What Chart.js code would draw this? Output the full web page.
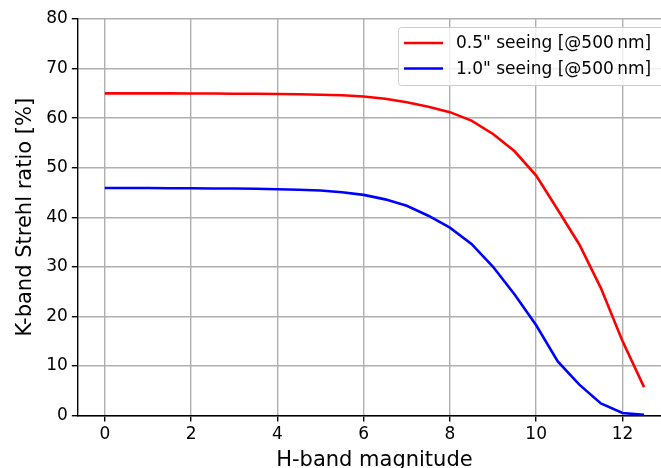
<!DOCTYPE html>
<html>
<head>
<meta charset="utf-8">
<script src="https://cdn.jsdelivr.net/npm/chart.js@4"></script>
<style>
  html, body { margin: 0; padding: 0; background: #fff; overflow: hidden; }
  #wrap { width: 671px; height: 473px; }
</style>
</head>
<body>
<div id="wrap"><canvas id="strehlChart" width="671" height="473"></canvas></div>
<script>
// H-band magnitude vs K-band Strehl ratio
const magnitudes = [0, 0.5, 1, 1.5, 2, 2.5, 3, 3.5, 4, 4.5, 5, 5.5, 6, 6.5, 7, 7.5, 8, 8.5, 9, 9.5, 10, 10.5, 11, 11.5, 12, 12.5];
const strehlGood = [65.0, 65.0, 65.0, 65.0, 64.95, 64.95, 64.9, 64.9, 64.85, 64.8, 64.7, 64.6, 64.35, 63.9, 63.2, 62.3, 61.2, 59.5, 56.8, 53.3, 48.4, 41.5, 34.5, 25.7, 15.0, 5.7];
const strehlBad = [45.9, 45.9, 45.9, 45.85, 45.85, 45.8, 45.8, 45.75, 45.65, 45.55, 45.4, 45.05, 44.5, 43.6, 42.3, 40.3, 37.9, 34.6, 30.0, 24.4, 18.2, 10.9, 6.2, 2.4, 0.5, 0.1];
const seriesLabels = ['0.5" seeing [@500\u2009nm]', '1.0" seeing [@500\u2009nm]'];
const seriesColors = ['#ff0000', '#0000ff'];
const xTicks = [0, 2, 4, 6, 8, 10, 12];
const yTicks = [0, 10, 20, 30, 40, 50, 60, 70, 80];

const FONT = 'DejaVu Sans';

function toPoints(ys) {
    return magnitudes.map((x, i) => ({ x: x, y: ys[i] }));
}

// matplotlib-style legend drawn inside the plot, upper right
const insideLegend = {
    id: 'insideLegend',
    afterDatasetsDraw(chart) {
        const ctx = chart.ctx;
        const left = 398, top = 27, w = 290, h = 58;
        ctx.save();
        ctx.fillStyle = 'rgba(255,255,255,0.8)';
        ctx.strokeStyle = '#cccccc';
        ctx.lineWidth = 1;
        ctx.beginPath();
        ctx.roundRect(left + 0.5, top + 0.5, w, h, 3);
        ctx.fill();
        ctx.stroke();
        ctx.font = '17px "' + FONT + '"';
        ctx.textBaseline = 'middle';
        chart.data.datasets.forEach((ds, i) => {
            const y = 43 + i * 25.5;
            ctx.strokeStyle = ds.borderColor;
            ctx.lineWidth = 2.6;
            ctx.beginPath();
            ctx.moveTo(404, y);
            ctx.lineTo(443, y);
            ctx.stroke();
            ctx.fillStyle = '#000';
            ctx.fillText(ds.label, 456, y + 1);
        });
        ctx.restore();
    }
};

const ctx = document.getElementById('strehlChart').getContext('2d');
new Chart(ctx, {
    type: 'line',
    data: {
        datasets: [
            { label: seriesLabels[0], data: toPoints(strehlGood), borderColor: seriesColors[0], backgroundColor: seriesColors[0], borderWidth: 2.6, pointRadius: 0, tension: 0 },
            { label: seriesLabels[1], data: toPoints(strehlBad), borderColor: seriesColors[1], backgroundColor: seriesColors[1], borderWidth: 2.6, pointRadius: 0, tension: 0 }
        ]
    },
    options: {
        responsive: false,
        animation: false,
        devicePixelRatio: 1,
        layout: { padding: { left: 13, right: 0, top: 19, bottom: 0 } },
        plugins: {
            legend: { display: false },
            tooltip: { enabled: false }
        },
        scales: {
            x: {
                type: 'linear',
                min: -0.625,
                max: 13.125,
                afterBuildTicks: s => { s.ticks = xTicks.map(v => ({ value: v })); },
                grid: { color: '#b0b0b0', lineWidth: 1.4, tickLength: 6, tickColor: '#000', tickWidth: 1.4 },
                border: { color: '#000', width: 1.4 },
                ticks: { color: '#000', font: { family: FONT, size: 17 }, padding: 3, maxRotation: 0 },
                title: { display: true, text: 'H-band magnitude', color: '#000', font: { family: FONT, size: 21 }, padding: { top: 0, bottom: 0 } }
            },
            y: {
                min: 0,
                max: 80,
                afterBuildTicks: s => { s.ticks = yTicks.map(v => ({ value: v })); },
                grid: { color: '#b0b0b0', lineWidth: 1.4, tickLength: 6, tickColor: '#000', tickWidth: 1.4 },
                border: { color: '#000', width: 1.4 },
                ticks: { color: '#000', font: { family: FONT, size: 17 }, padding: 4 },
                title: { display: true, text: 'K-band Strehl ratio [%]', color: '#000', font: { family: FONT, size: 21 }, padding: { top: 0, bottom: 4 } }
            }
        }
    },
    plugins: [insideLegend]
});
</script>
</body>
</html>
